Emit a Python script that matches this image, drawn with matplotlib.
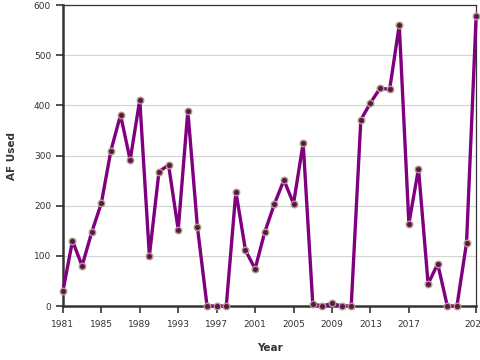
import matplotlib.pyplot as plt

years = list(range(1981, 2025))
af_used = [29, 130, 80, 147, 205, 310, 381, 291, 411, 100,
           268, 281, 152, 389, 157, 0, 0, 0, 228, 111,
           74, 147, 203, 251, 204, 325, 4, 0, 5, 0,
           0, 371, 405, 434, 432, 560, 164, 274, 44, 84,
           0, 0, 126, 579]

x_ticks = [1981, 1985, 1989, 1993, 1997, 2001, 2005, 2009, 2013, 2017, 2024]
y_ticks = [0, 100, 200, 300, 400, 500, 600]

fig = plt.figure(figsize=(4.8, 3.6), dpi=100)
ax = fig.add_axes([0.131, 0.15, 0.861, 0.836])

ax.plot(years, af_used, color='#800080', linewidth=2.4, zorder=3, clip_on=False)
ax.scatter(years, af_used, s=22, color='#5e1450', edgecolors='#b0a07e',
           linewidths=1.0, zorder=4, clip_on=False)

ax.set_xlim(1981, 2024)
ax.set_ylim(0, 600)
ax.set_xticks(x_ticks)
ax.set_xticklabels([str(t) for t in x_ticks])
ax.set_yticks(y_ticks)

ax.grid(axis='y', color='#d3d3d3', linewidth=0.8)
ax.set_axisbelow(True)

for side in ['left', 'bottom']:
    ax.spines[side].set_linewidth(1.8)
    ax.spines[side].set_color('#333333')
for side in ['top', 'right']:
    ax.spines[side].set_linewidth(0.9)
    ax.spines[side].set_color('#333333')

ax.tick_params(axis='both', labelsize=6.5, colors='#333333', length=5, width=1.2)
ax.tick_params(axis='x', pad=5)
ax.set_xlabel('Year', fontsize=7.5, fontweight='bold', color='#333333', labelpad=10)
ax.set_ylabel('AF Used', fontsize=7.5, fontweight='bold', color='#333333', labelpad=12)

fig.savefig('out.png', dpi=100)
